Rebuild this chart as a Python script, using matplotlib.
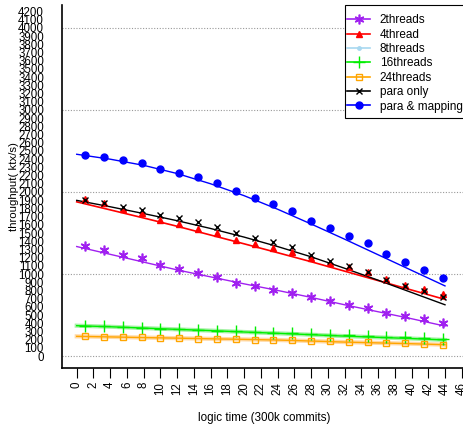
import matplotlib
matplotlib.use("Agg")
import matplotlib.pyplot as plt
from matplotlib.patches import Rectangle

plt.rcParams.update({
    "font.family": ["Liberation Sans", "DejaVu Sans"],
    "font.size": 8,
})

# sample positions (logic time) of the markers
x_pts = [1.0, 3.25, 5.5, 7.75, 10.0, 12.25, 14.5, 16.75, 19.0, 21.25,
         23.5, 25.75, 28.0, 30.25, 32.5, 34.75, 37.0, 39.25, 41.5, 43.75]

two_threads = [1341, 1293, 1236, 1191, 1106, 1065, 1008, 967, 894, 854,
               805, 764, 715, 666, 618, 585, 524, 484, 447, 399]
four_thread = [1910, 1862, 1789, 1740, 1659, 1606, 1549, 1496, 1415, 1366,
               1317, 1268, 1191, 1138, 1082, 1028, 939, 866, 813, 756]
sixteen_threads = [370, 362, 354, 346, 333, 325, 317, 309, 301, 293,
                   285, 276, 268, 260, 252, 244, 236, 232, 220, 203]
twentyfour_threads = [240, 236, 236, 232, 223, 220, 211, 207, 203, 199,
                      195, 191, 183, 179, 171, 167, 162, 155, 150, 138]
para_only = [1902, 1862, 1821, 1784, 1723, 1679, 1630, 1573, 1500, 1443,
             1386, 1329, 1228, 1162, 1093, 1028, 927, 857, 793, 716]
para_mapping = [2455, 2423, 2390, 2350, 2285, 2236, 2179, 2114, 2008, 1931,
                1854, 1772, 1646, 1557, 1467, 1378, 1240, 1146, 1052, 955]

# fitted trend lines
x_fit = [0, 4, 8, 12, 16, 20, 24, 28, 32, 36, 40, 44]
fit_two = [1335, 1240, 1145, 1050, 965, 880, 800, 715, 625, 540, 455, 365]
fit_four = [1880, 1782, 1683, 1582, 1475, 1368, 1260, 1150, 1035, 920, 805, 690]
fit_sixteen = [370, 357, 341, 325, 310, 293, 277, 260, 243, 228, 213, 196]
fit_twentyfour = [240, 233, 225, 218, 210, 203, 195, 183, 170, 160, 150, 138]
fit_para = [1898, 1820, 1737, 1650, 1555, 1450, 1335, 1210, 1070, 925, 775, 625]
fit_mapping = [2460, 2400, 2325, 2225, 2100, 1955, 1790, 1610, 1425, 1235, 1045, 855]

x_ticks = list(range(0, 47, 2))
y_ticks = list(range(0, 4201, 100))
grid_levels = [0, 1000, 2000, 3000, 4000]

fig = plt.figure(figsize=(4.64, 4.33), dpi=100)
ax = fig.add_axes([62 / 464, 1 - 368 / 433, 402 / 464, 363 / 433])

for lvl in grid_levels:
    ax.axhline(lvl, color="#999999", lw=0.8, ls=(0, (1, 1.5)), zorder=0)

# fit lines
ax.plot(x_fit, fit_two, color="#A020F0", lw=1.0)
ax.plot(x_fit, fit_four, color="red", lw=1.2)
ax.plot(x_fit, fit_sixteen, color="#90EE90", lw=3, alpha=0.8)
ax.plot(x_fit, fit_sixteen, color="#00EE00", lw=1.0)
ax.plot(x_fit, fit_twentyfour, color="#FFD090", lw=3, alpha=0.8)
ax.plot(x_fit, fit_twentyfour, color="#FFA500", lw=1.0)
ax.plot(x_fit, fit_para, color="black", lw=1.0)
ax.plot(x_fit, fit_mapping, color="blue", lw=1.0)

# marker series
ax.plot(x_pts, two_threads, ls="none", marker=(6, 2, 0), ms=7, mew=1.2,
        color="#A020F0", label="2threads")
ax.plot(x_pts, four_thread, ls="none", marker="^", ms=5, color="red",
        label="4thread")
ax.plot([], [], color="#A8D8F0", marker=".", ms=5, lw=1.5, label="8threads")
ax.plot(x_pts, sixteen_threads, ls="none", marker="+", ms=8, mew=1.0,
        color="#00EE00", label="16threads")
ax.plot(x_pts, twentyfour_threads, ls="none", marker="s", ms=5, mfc="none",
        mew=1.0, color="#FFA500", label="24threads")
ax.plot(x_pts, para_only, ls="none", marker="x", ms=5, mew=1.0,
        color="black", label="para only")
ax.plot(x_pts, para_mapping, ls="none", marker="o", ms=5, color="blue",
        label="para & mapping")

ax.set_xlim(-1.76, 46.27)
ax.set_ylim(-146, 4280)
ax.set_xticks(x_ticks)
ax.set_xticklabels([str(t) for t in x_ticks], rotation=90)
ax.set_yticks(y_ticks)
ax.tick_params(axis="x", length=7, width=0.8, pad=3, labelsize=8.3)
ax.tick_params(axis="y", length=0, pad=13, labelsize=8.3)
ax.spines["top"].set_visible(False)
ax.spines["right"].set_visible(False)
ax.spines["left"].set_linewidth(1.2)
ax.spines["bottom"].set_linewidth(1.2)

fig.text(264 / 464, 1 - 418 / 433, "logic time (300k commits)", ha="center",
         va="center", fontsize=8.4)
fig.text(14 / 464, 1 - 187 / 433, "throughput( ktx/s)", ha="center",
         va="center", rotation=90, fontsize=8.2)

# legend box (white with black border) drawn in figure pixels
frame = Rectangle((345 / 464, 1 - 118 / 433), 125 / 464, 113 / 433,
                  transform=fig.transFigure, facecolor="white",
                  edgecolor="black", lw=0.8, zorder=5)
fig.patches.append(frame)

handles, labels = ax.get_legend_handles_labels()
leg = fig.legend(handles, labels, loc="upper left",
                 bbox_to_anchor=(345 / 464, 1 - 12 / 433), borderaxespad=0,
                 frameon=False, fontsize=8.5, handlelength=1.95,
                 labelspacing=0.2, borderpad=0.2, handletextpad=0.8)
leg.set_zorder(6)
for h in leg.legend_handles:
    h.set_linestyle("-")
    h.set_linewidth(1.2)

fig.savefig("out.png", dpi=100)
